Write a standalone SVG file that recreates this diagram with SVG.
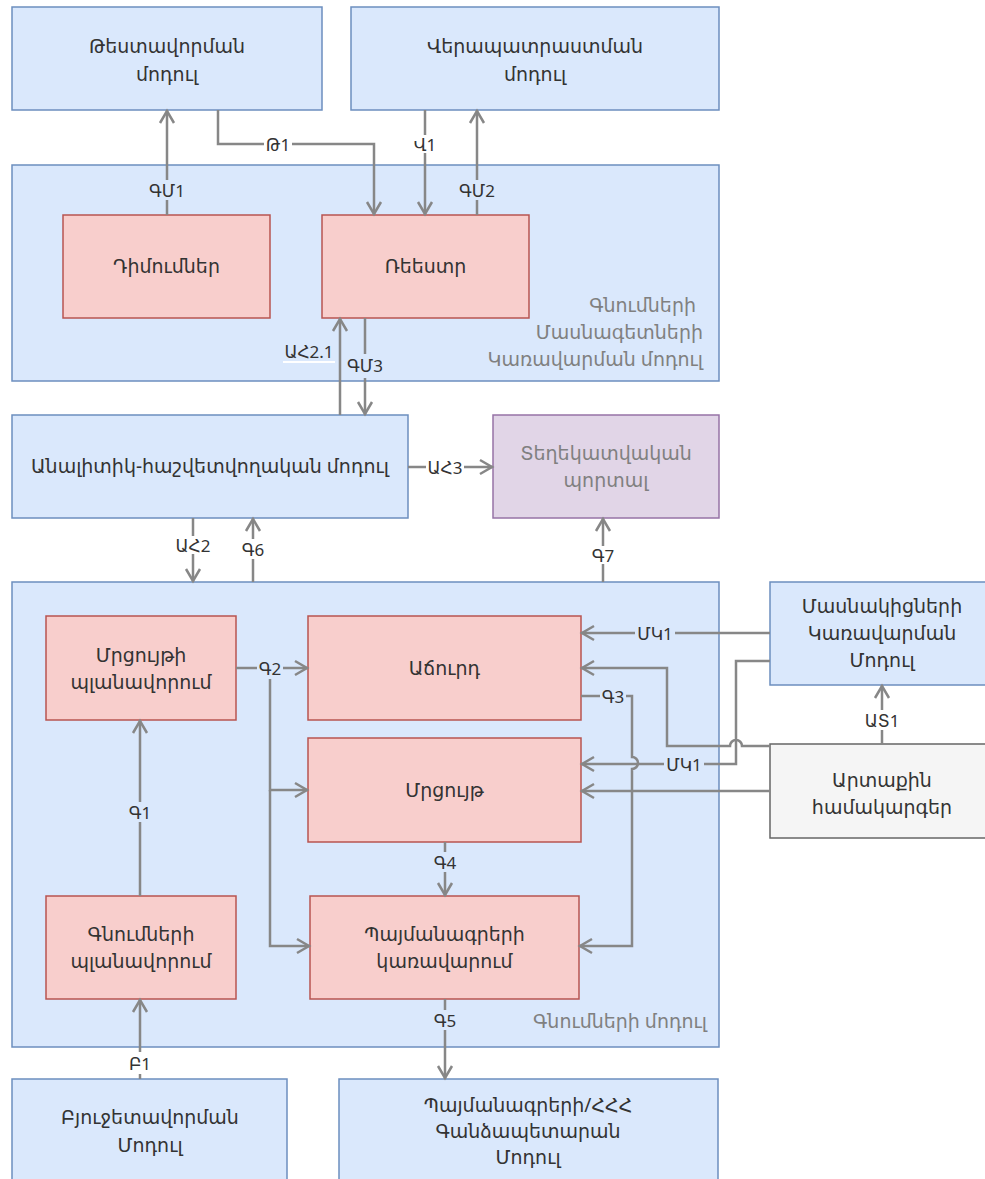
<svg xmlns="http://www.w3.org/2000/svg" width="985" height="1179" viewBox="0 0 985 1179">
<defs>
<marker id="arr" markerUnits="userSpaceOnUse" markerWidth="20" markerHeight="20" viewBox="-16 -10 20 20" refX="1" refY="0" orient="auto">
<path d="M-12,-7 L0,0 L-12,7" fill="none" stroke="#878787" stroke-width="2.5"/>
</marker>
<style>
text{font-family:"Noto Sans","DejaVu Sans",sans-serif;fill:#333333}
.t{font-size:19px;text-anchor:middle}
.g{fill:#808080}
.e{text-anchor:end}
.l{font-size:17px;text-anchor:middle;dominant-baseline:central}
.blue{fill:#dae8fc;stroke:#6c8ebf;stroke-width:1.5}
.red{fill:#f8cecc;stroke:#b85450;stroke-width:1.5}
.purple{fill:#e1d5e7;stroke:#9673a6;stroke-width:1.5}
.gray{fill:#f5f5f5;stroke:#666666;stroke-width:1.5}
.c{fill:none;stroke:#878787;stroke-width:2.5}
.a{marker-end:url(#arr)}
.bw{fill:#ffffff}
.bb{fill:#dae8fc}
</style>
</defs>
<rect width="985" height="1179" fill="#ffffff"/>

<g id="n-test"><rect class="blue" x="12" y="7" width="310" height="103"/><text class="t" x="167" y="53">Թեստավորման</text><text class="t" x="167" y="81">մոդուլ</text></g>
<g id="n-retrain"><rect class="blue" x="351" y="7" width="368" height="103"/><text class="t" x="535" y="53">Վերապատրաստման</text><text class="t" x="535" y="81">մոդուլ</text></g>

<g id="n-specialists"><rect class="blue" x="12" y="165" width="707" height="216"/><text class="t g e" x="696" y="312">Գնումների</text><text class="t g e" x="703" y="339">Մասնագետների</text><text class="t g e" x="703" y="366">Կառավարման մոդուլ</text></g>
<g id="n-applications"><rect class="red" x="63" y="215" width="207" height="103"/><text class="t" x="166.5" y="273">Դիմումներ</text></g>
<g id="n-registry"><rect class="red" x="322" y="215" width="207" height="103"/><text class="t" x="425.5" y="273">Ռեեստր</text></g>

<g id="n-analytic"><rect class="blue" x="12" y="415" width="396" height="103"/><text class="t" x="210" y="473">Անալիտիկ-հաշվետվողական մոդուլ</text></g>
<g id="n-portal"><rect class="purple" x="493" y="415" width="226" height="103"/><text class="t g" x="606" y="460">Տեղեկատվական</text><text class="t g" x="606" y="487">պորտալ</text></g>

<g id="n-procurement"><rect class="blue" x="12" y="582" width="707" height="465"/><text class="t g e" x="707" y="1028">Գնումների մոդուլ</text></g>
<g id="n-tender-plan"><rect class="red" x="46" y="616" width="190" height="104"/><text class="t" x="141" y="662">Մրցույթի</text><text class="t" x="141" y="689">պլանավորում</text></g>
<g id="n-auction"><rect class="red" x="308" y="616" width="273" height="104"/><text class="t" x="444.5" y="675">Աճուրդ</text></g>
<g id="n-tender"><rect class="red" x="308" y="738" width="273" height="104"/><text class="t" x="444.5" y="797">Մրցույթ</text></g>
<g id="n-contracts"><rect class="red" x="310" y="896" width="269" height="103"/><text class="t" x="444.5" y="941">Պայմանագրերի</text><text class="t" x="444.5" y="968">կառավարում</text></g>
<g id="n-proc-plan"><rect class="red" x="46" y="896" width="190" height="103"/><text class="t" x="141" y="941">Գնումների</text><text class="t" x="141" y="968">պլանավորում</text></g>

<g id="n-budget"><rect class="blue" x="12" y="1079" width="275" height="110"/><text class="t" x="150" y="1124">Բյուջետավորման</text><text class="t" x="150" y="1152">Մոդուլ</text></g>
<g id="n-treasury"><rect class="blue" x="339" y="1079" width="379" height="110"/><text class="t" x="528" y="1112">Պայմանագրերի/ՀՀՀ</text><text class="t" x="528" y="1138">Գանձապետարան</text><text class="t" x="528" y="1164">Մոդուլ</text></g>

<g id="n-participants"><rect class="blue" x="770" y="582" width="225" height="103"/><text class="t" x="882" y="613">Մասնակիցների</text><text class="t" x="882" y="640">Կառավարման</text><text class="t" x="882" y="667">Մոդուլ</text></g>
<g id="n-external"><rect class="gray" x="770" y="744" width="225" height="94"/><text class="t" x="882" y="787">Արտաքին</text><text class="t" x="882" y="814">համակարգեր</text></g>

<g id="connectors">
<path class="c a" d="M167,215 L167,110"/>
<path class="c a" d="M218,110 L218,144 L374,144 L374,215"/>
<path class="c a" d="M425,110 L425,215"/>
<path class="c a" d="M477,215 L477,110"/>
<path class="c a" d="M340,415 L340,318"/>
<path class="c a" d="M365,318 L365,415"/>
<path class="c a" d="M408,467 L493,467"/>
<path class="c a" d="M193,518 L193,582"/>
<path class="c a" d="M253,582 L253,518"/>
<path class="c a" d="M603,582 L603,518"/>
<path class="c a" d="M140,896 L140,720"/>
<path class="c a" d="M140,1079 L140,999"/>
<path class="c a" d="M236,668 L308,668"/>
<path class="c a" d="M270,668 L270,790 L308,790"/>
<path class="c a" d="M270,790 L270,946 L310,946"/>
<path class="c a" d="M581,696 L632,696 L632,757 A6,6 0 0 1 632,769 L632,946 L579,946"/>
<path class="c a" d="M770,633 L581,633"/>
<path class="c a" d="M770,661 L736,661 L736,764 L581,764"/>
<path class="c a" d="M770,746 L742,746 A6,6 0 0 0 730,746 L667,746 L667,668 L581,668"/>
<path class="c a" d="M770,791 L581,791"/>
<path class="c a" d="M882,744 L882,685"/>
<path class="c a" d="M445,842 L445,896"/>
<path class="c a" d="M445,999 L445,1079"/>

<rect class="bb" x="147" y="180" width="40" height="20"/><text class="l" x="167" y="190">ԳՄ1</text>
<rect class="bw" x="264" y="135" width="28" height="18"/><text class="l" x="278" y="144">Թ1</text>
<rect class="bw" x="412" y="135" width="26" height="18"/><text class="l" x="425" y="144">Վ1</text>
<rect class="bb" x="457" y="180" width="40" height="20"/><text class="l" x="477" y="190">ԳՄ2</text>
<rect x="283" y="361" width="52" height="2" fill="#ffffff"/><text class="l" x="309" y="351">ԱՀ2.1</text>
<rect class="bb" x="345" y="354" width="40" height="24"/><text class="l" x="365" y="365">ԳՄ3</text>
<rect class="bw" x="426" y="458" width="38" height="18"/><text class="l" x="445" y="467">ԱՀ3</text>
<rect class="bw" x="174" y="536" width="38" height="18"/><text class="l" x="193" y="545">ԱՀ2</text>
<rect class="bw" x="240" y="539" width="26" height="20"/><text class="l" x="253" y="549">Գ6</text>
<rect class="bw" x="590" y="546" width="26" height="18"/><text class="l" x="603" y="555">Գ7</text>
<rect class="bb" x="127" y="802" width="26" height="20"/><text class="l" x="140" y="812">Գ1</text>
<rect class="bw" x="127" y="1052" width="26" height="22"/><text class="l" x="140" y="1063">Բ1</text>
<rect class="bb" x="257" y="658" width="26" height="21"/><text class="l" x="270" y="668">Գ2</text>
<rect class="bb" x="600" y="687" width="26" height="18"/><text class="l" x="613" y="696">Գ3</text>
<rect class="bb" x="635" y="624" width="40" height="18"/><text class="l" x="655" y="633">ՄԿ1</text>
<rect class="bb" x="664" y="755" width="40" height="18"/><text class="l" x="684" y="764">ՄԿ1</text>
<rect class="bw" x="863" y="710" width="38" height="20"/><text class="l" x="882" y="720">ԱՏ1</text>
<rect class="bb" x="432" y="852" width="26" height="20"/><text class="l" x="445" y="862">Գ4</text>
<rect class="bb" x="432" y="1010" width="26" height="20"/><text class="l" x="445" y="1020">Գ5</text>
</g>
</svg>
